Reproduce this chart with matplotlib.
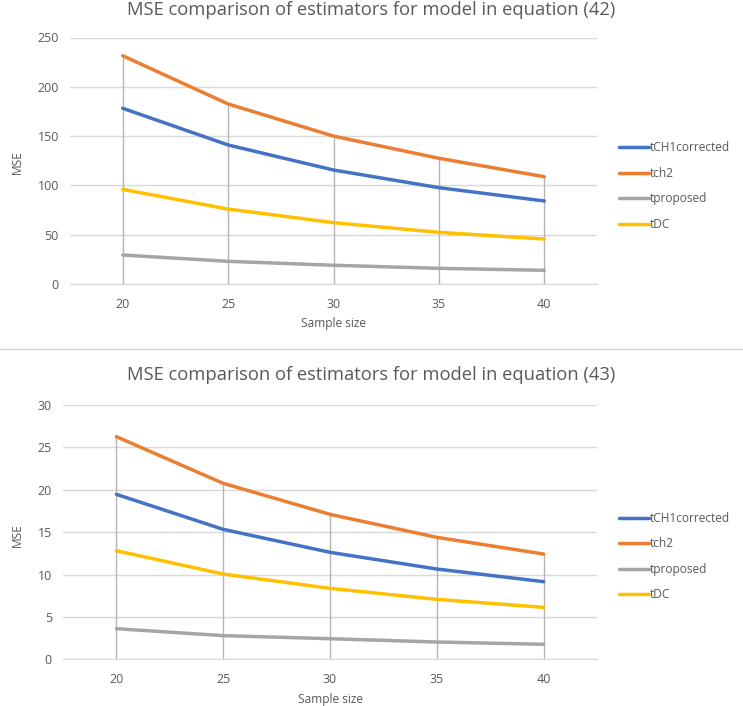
import numpy as np
import matplotlib
matplotlib.use("Agg")
import matplotlib.pyplot as plt

plt.rcParams['font.family'] = ['Open Sans', 'DejaVu Sans']

# Datos
sample_size = ['20', '25', '30', '35', '40']
series_names = ['tCH1corrected', 'tch2', 'tproposed', 'tDC']
colores = ['#4472C4', '#ED7D31', '#A5A5A5', '#FFC000']

# Modelo de la ecuación (42)
tch1_42 = [178.2, 141.0, 115.6, 97.7, 84.2]
tch2_42 = [231.5, 182.6, 150.0, 127.5, 108.8]
tprop_42 = [29.4, 23.0, 19.0, 15.9, 13.9]
tdc_42 = [96.0, 76.0, 62.2, 52.4, 45.6]

# Modelo de la ecuación (43)
tch1_43 = [19.46, 15.33, 12.62, 10.65, 9.16]
tch2_43 = [26.26, 20.76, 17.10, 14.39, 12.42]
tprop_43 = [3.61, 2.79, 2.43, 2.04, 1.77]
tdc_43 = [12.81, 10.06, 8.37, 7.07, 6.13]

W, H = 743, 706
gris_texto = '#595959'


def px_rect(x0, x1, ytop, ybot):
    return [x0 / W, 1 - ybot / H, (x1 - x0) / W, (ybot - ytop) / H]


fig = plt.figure(figsize=(W / 100, H / 100), dpi=100)


def dibujar(rect, datos, ymax, paso, titulo, y_titulo, y_xlabel, y_ylabel, y_leyenda):
    ax = fig.add_axes(rect)
    x = np.arange(len(sample_size))
    maximos = np.max(np.array(datos), axis=0)
    # líneas de caída
    ax.vlines(x, 0, maximos, colors='#B4B4B4', linewidth=1.0, zorder=1)
    for serie, nombre, color in zip(datos, series_names, colores):
        ax.plot(x, serie, color=color, linewidth=2.5, label=nombre,
                solid_capstyle='round', zorder=3)
    ax.set_xlim(-0.5, len(sample_size) - 0.5)
    ax.set_ylim(0, ymax)
    ax.set_yticks(np.arange(0, ymax + paso / 2, paso))
    ax.set_xticks(x)
    ax.set_xticklabels(sample_size)
    ax.grid(axis='y', color='#D9D9D9', linewidth=1.0, zorder=0)
    ax.set_axisbelow(True)
    for s in ['top', 'right', 'left']:
        ax.spines[s].set_visible(False)
    ax.spines['bottom'].set_color('#D9D9D9')
    ax.tick_params(length=0, labelsize=9, colors=gris_texto, pad=8)
    ax.tick_params(axis='x', pad=10)
    fig.text(0.5, 1 - y_titulo / H, titulo, ha='center', va='center',
             fontsize=13.2, color=gris_texto)
    fig.text((rect[0] + rect[0] + rect[2]) / 2, 1 - y_xlabel / H, 'Sample size',
             ha='center', va='center', fontsize=8.6, color=gris_texto)
    fig.text(17 / W, 1 - y_ylabel / H, 'MSE', ha='center', va='center',
             rotation=90, fontsize=8.6, color=gris_texto)
    ax.legend(loc='center left', bbox_to_anchor=(619 / W, 1 - y_leyenda / H),
              bbox_transform=fig.transFigure, frameon=False, fontsize=8.6,
              handlelength=2.5, handletextpad=0.05, labelspacing=1.05,
              borderpad=0, borderaxespad=0, labelcolor=gris_texto)
    return ax


dibujar(px_rect(70, 597, 37.5, 284), [tch1_42, tch2_42, tprop_42, tdc_42],
        250, 50, 'MSE comparison of estimators for model in equation (42)',
        10, 323, 162, 186)
dibujar(px_rect(63, 597, 405, 659.3), [tch1_43, tch2_43, tprop_43, tdc_43],
        30, 5, 'MSE comparison of estimators for model in equation (43)',
        375, 700, 535, 556.5)

# línea separadora
fig.add_artist(plt.Line2D([0, 1], [1 - 349.5 / H, 1 - 349.5 / H],
                          color='#D9D9D9', linewidth=1.0))

fig.savefig('out.png', dpi=100)
